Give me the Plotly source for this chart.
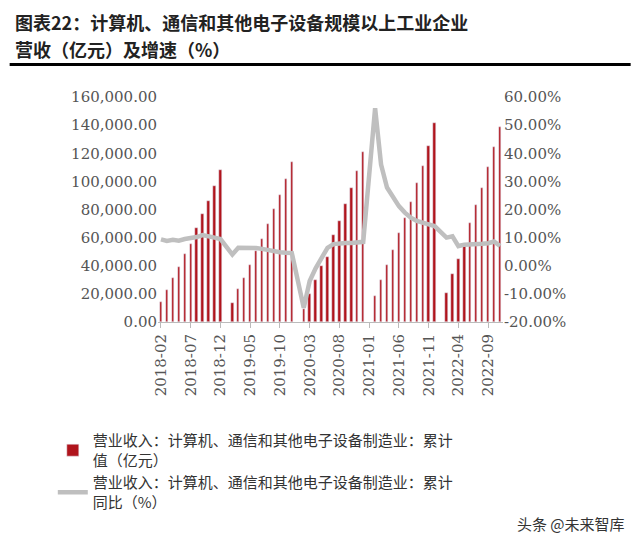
import plotly.graph_objects as go

months = []
for y in range(2018, 2023):
    for m in range(1, 13):
        if (y == 2018 and m < 2) or (y == 2022 and m > 11):
            continue
        months.append(f"{y}-{m:02d}")

revenue = [
    14200, 22800, 31300, 39100, 48400, 55500, 66800, 76800, 86000, 96700, 108000,
    None, 13500, 23500, 31300, 40500, 50500, 59000, 69700, 80400, 90300, 101700, 113800,
    None, 9000, 19900, 29900, 39800, 46400, 61900, 71800, 83900, 95300, 107400, 120900,
    None, 18500, 29900, 40300, 51200, 63000, 74200, 85500, 98600, 110900, 125200, 141300,
    None, 20400, 33900, 44600, 54000, 70200, 83000, 95500, 110400, 124600, 138900,
]
growth = [
    9.4, 8.8, 9.2, 8.9, 9.5, 9.8, 10.2, 10.9, 10.6, 10.0, 9.5,
    None, 4.0, 6.4, 6.4, 6.5, 6.3, 6.0, 5.5, 5.0, 4.8, 4.6, 4.5,
    None, -14.9, -5.4, -0.9, 2.5, 6.4, 7.7, 8.0, 8.1, 8.1, 8.3, 8.5,
    None, 56.0, 36.0, 27.8, 24.2, 21.2, 18.9, 17.1, 15.9, 15.1, 14.7, 14.1,
    None, 10.0, 10.5, 7.0, 7.5, 7.5, 7.6, 7.8, 8.0, 8.6, 7.0,
]
tick_labels = ["2018-02", "2018-07", "2018-12", "2019-05", "2019-10", "2020-03",
               "2020-08", "2021-01", "2021-06", "2021-11", "2022-04", "2022-09"]
left_ticks = [0, 20000, 40000, 60000, 80000, 100000, 120000, 140000, 160000]
right_ticks = [-20, -10, 0, 10, 20, 30, 40, 50, 60]

fig = go.Figure()
fig.add_trace(go.Bar(x=months, y=revenue, marker_color="#B0141C", width=0.4,
                     name="营业收入：计算机、通信和其他电子设备制造业：累计<br>值（亿元）"))
fig.add_trace(go.Scatter(x=months, y=growth, yaxis="y2", mode="lines", connectgaps=True,
                         line=dict(color="#BFBFBF", width=4.5),
                         name="营业收入：计算机、通信和其他电子设备制造业：累计<br>同比（%）"))

tickfont = dict(family="DejaVu Serif, serif", size=15, color="#555555")
fig.update_layout(
    width=640, height=537,
    margin=dict(l=150, r=145, t=89, b=223, autoexpand=False),
    plot_bgcolor="white", paper_bgcolor="white",
    showlegend=True, bargap=0,
    xaxis=dict(type="category", tickmode="array", tickvals=tick_labels, ticktext=tick_labels,
               tickangle=-90, tickfont=tickfont, ticks="outside", ticklen=5,
               tickcolor="#BBBBBB", showline=True, linecolor="#BBBBBB", showgrid=False),
    yaxis=dict(range=[0, 160000], tickvals=left_ticks,
               ticktext=[f"{v:,.2f}" for v in left_ticks], tickfont=tickfont,
               showgrid=False, zeroline=False),
    yaxis2=dict(range=[-20, 60], tickvals=right_ticks, overlaying="y", side="right",
                ticktext=[f"{v:.2f}%" for v in right_ticks], tickfont=tickfont,
                showgrid=False, zeroline=False),
    legend=dict(x=0.07, y=0.225, xref="container", yref="container", xanchor="left", yanchor="top",
                font=dict(family="Noto Sans CJK SC", size=15, color="#333333"),
                tracegroupgap=12, bgcolor="rgba(0,0,0,0)"),
    font=dict(family="Noto Sans CJK SC"),
)
title_font = dict(family="Noto Sans CJK SC", size=18, color="#222222")
fig.add_annotation(xref="paper", yref="paper", x=-0.42, y=1.4, xanchor="left", yanchor="top",
                   showarrow=False, text="<b>图表22：计算机、通信和其他电子设备规模以上工业企业</b>",
                   font=title_font)
fig.add_annotation(xref="paper", yref="paper", x=-0.42, y=1.28, xanchor="left", yanchor="top",
                   showarrow=False, text="<b>营收（亿元）及增速（%）</b>", font=title_font)
fig.add_shape(type="line", xref="paper", yref="paper", x0=-0.43, x1=1.37, y0=1.145, y1=1.145,
              line=dict(color="black", width=3))
fig.add_annotation(xref="paper", yref="paper", x=1.36, y=-0.84, xanchor="right", yanchor="top",
                   showarrow=False, text="头条 @未来智库",
                   font=dict(family="Noto Sans CJK SC", size=15, color="#333333"))
fig.write_html("out.html")
